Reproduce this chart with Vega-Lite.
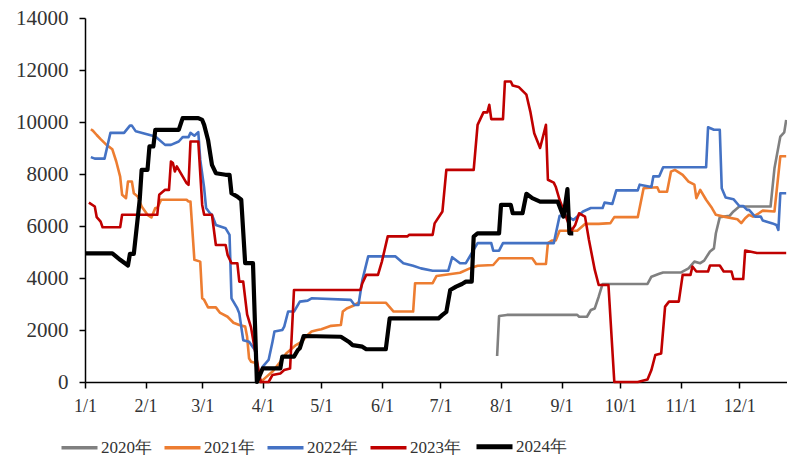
{
  "$schema": "https://vega.github.io/schema/vega-lite/v6.json",
  "width": 702,
  "height": 364,
  "autosize": "none",
  "padding": {"left": 85, "top": 18, "right": 0, "bottom": 79},
  "background": "#ffffff",
  "config": {"view": {"stroke": null}, "font": "Liberation Serif"},
  "data": {"values": [
    {"s":"2020年","d":"2024-07-30","v":1000},{"s":"2020年","d":"2024-07-31","v":2540},{"s":"2020年","d":"2024-08-04","v":2580},{"s":"2020年","d":"2024-09-09","v":2580},{"s":"2020年","d":"2024-09-10","v":2510},{"s":"2020年","d":"2024-09-14","v":2510},{"s":"2020年","d":"2024-09-16","v":2770},{"s":"2020年","d":"2024-09-18","v":2830},{"s":"2020年","d":"2024-09-20","v":3280},{"s":"2020年","d":"2024-09-22","v":3770},{"s":"2020年","d":"2024-10-15","v":3770},{"s":"2020年","d":"2024-10-17","v":4050},{"s":"2020年","d":"2024-10-21","v":4160},{"s":"2020年","d":"2024-10-23","v":4210},{"s":"2020年","d":"2024-11-01","v":4210},{"s":"2020年","d":"2024-11-05","v":4370},{"s":"2020年","d":"2024-11-08","v":4630},{"s":"2020年","d":"2024-11-11","v":4570},{"s":"2020年","d":"2024-11-13","v":4670},{"s":"2020年","d":"2024-11-16","v":5020},{"s":"2020年","d":"2024-11-18","v":5140},{"s":"2020年","d":"2024-11-19","v":5720},{"s":"2020年","d":"2024-11-21","v":6340},{"s":"2020年","d":"2024-11-26","v":6390},{"s":"2020年","d":"2024-11-28","v":6560},{"s":"2020年","d":"2024-12-01","v":6750},{"s":"2020年","d":"2024-12-17","v":6750},{"s":"2020年","d":"2024-12-19","v":8220},{"s":"2020年","d":"2024-12-22","v":9440},{"s":"2020年","d":"2024-12-24","v":9600},{"s":"2020年","d":"2024-12-25","v":10080},

    {"s":"2021年","d":"2024-01-04","v":9720},{"s":"2021年","d":"2024-01-05","v":9670},{"s":"2021年","d":"2024-01-07","v":9500},{"s":"2021年","d":"2024-01-09","v":9340},{"s":"2021年","d":"2024-01-12","v":9120},{"s":"2021年","d":"2024-01-15","v":8950},{"s":"2021年","d":"2024-01-17","v":8480},{"s":"2021年","d":"2024-01-19","v":7900},{"s":"2021年","d":"2024-01-20","v":7200},{"s":"2021年","d":"2024-01-22","v":7070},{"s":"2021年","d":"2024-01-23","v":7710},{"s":"2021年","d":"2024-01-25","v":7710},{"s":"2021年","d":"2024-01-26","v":7260},{"s":"2021年","d":"2024-01-28","v":7130},{"s":"2021年","d":"2024-01-30","v":6750},{"s":"2021年","d":"2024-02-02","v":6430},{"s":"2021年","d":"2024-02-04","v":6330},{"s":"2021年","d":"2024-02-06","v":6690},{"s":"2021年","d":"2024-02-07","v":6690},{"s":"2021年","d":"2024-02-09","v":7010},{"s":"2021年","d":"2024-02-22","v":7010},{"s":"2021年","d":"2024-02-23","v":6940},{"s":"2021年","d":"2024-02-24","v":6940},{"s":"2021年","d":"2024-02-26","v":4700},{"s":"2021年","d":"2024-02-29","v":4630},{"s":"2021年","d":"2024-03-01","v":3220},{"s":"2021年","d":"2024-03-02","v":3160},{"s":"2021年","d":"2024-03-04","v":2870},{"s":"2021年","d":"2024-03-08","v":2870},{"s":"2021年","d":"2024-03-10","v":2670},{"s":"2021年","d":"2024-03-14","v":2510},{"s":"2021年","d":"2024-03-17","v":2280},{"s":"2021年","d":"2024-03-20","v":2190},{"s":"2021年","d":"2024-03-23","v":2130},{"s":"2021年","d":"2024-03-24","v":1740},{"s":"2021年","d":"2024-03-25","v":910},{"s":"2021年","d":"2024-03-26","v":780},{"s":"2021年","d":"2024-03-28","v":740},{"s":"2021年","d":"2024-03-31","v":0},{"s":"2021年","d":"2024-04-02","v":140},{"s":"2021年","d":"2024-04-06","v":400},{"s":"2021年","d":"2024-04-10","v":780},{"s":"2021年","d":"2024-04-13","v":1100},{"s":"2021年","d":"2024-04-18","v":1420},{"s":"2021年","d":"2024-04-21","v":1550},{"s":"2021年","d":"2024-04-24","v":1810},{"s":"2021年","d":"2024-04-26","v":1940},{"s":"2021年","d":"2024-04-29","v":2000},{"s":"2021年","d":"2024-05-01","v":2030},{"s":"2021年","d":"2024-05-06","v":2160},{"s":"2021年","d":"2024-05-11","v":2190},{"s":"2021年","d":"2024-05-12","v":2710},{"s":"2021年","d":"2024-05-14","v":2830},{"s":"2021年","d":"2024-05-17","v":2920},{"s":"2021年","d":"2024-05-20","v":3050},{"s":"2021年","d":"2024-06-03","v":3050},{"s":"2021年","d":"2024-06-07","v":2710},{"s":"2021年","d":"2024-06-17","v":2710},{"s":"2021年","d":"2024-06-18","v":3800},{"s":"2021年","d":"2024-06-27","v":3800},{"s":"2021年","d":"2024-06-29","v":4080},{"s":"2021年","d":"2024-07-11","v":4200},{"s":"2021年","d":"2024-07-16","v":4370},{"s":"2021年","d":"2024-07-20","v":4470},{"s":"2021年","d":"2024-07-28","v":4500},{"s":"2021年","d":"2024-07-31","v":4760},{"s":"2021年","d":"2024-08-17","v":4760},{"s":"2021年","d":"2024-08-19","v":4540},{"s":"2021年","d":"2024-08-24","v":4540},{"s":"2021年","d":"2024-08-25","v":5340},{"s":"2021年","d":"2024-08-27","v":5440},{"s":"2021年","d":"2024-08-29","v":5440},{"s":"2021年","d":"2024-08-31","v":5820},{"s":"2021年","d":"2024-09-09","v":5820},{"s":"2021年","d":"2024-09-13","v":6080},{"s":"2021年","d":"2024-09-20","v":6080},{"s":"2021年","d":"2024-09-26","v":6110},{"s":"2021年","d":"2024-09-28","v":6340},{"s":"2021年","d":"2024-10-10","v":6340},{"s":"2021年","d":"2024-10-13","v":7450},{"s":"2021年","d":"2024-10-20","v":7490},{"s":"2021年","d":"2024-10-21","v":7320},{"s":"2021年","d":"2024-10-25","v":7320},{"s":"2021年","d":"2024-10-27","v":8090},{"s":"2021年","d":"2024-10-29","v":8160},{"s":"2021年","d":"2024-11-02","v":7970},{"s":"2021年","d":"2024-11-05","v":7710},{"s":"2021年","d":"2024-11-08","v":7590},{"s":"2021年","d":"2024-11-09","v":7070},{"s":"2021年","d":"2024-11-11","v":7390},{"s":"2021年","d":"2024-11-14","v":7010},{"s":"2021年","d":"2024-11-17","v":6690},{"s":"2021年","d":"2024-11-19","v":6430},{"s":"2021年","d":"2024-11-23","v":6360},{"s":"2021年","d":"2024-11-30","v":6260},{"s":"2021年","d":"2024-12-02","v":6110},{"s":"2021年","d":"2024-12-04","v":6300},{"s":"2021年","d":"2024-12-06","v":6430},{"s":"2021年","d":"2024-12-08","v":6360},{"s":"2021年","d":"2024-12-11","v":6490},{"s":"2021年","d":"2024-12-13","v":6590},{"s":"2021年","d":"2024-12-19","v":6560},{"s":"2021年","d":"2024-12-22","v":8680},{"s":"2021年","d":"2024-12-25","v":8680},

    {"s":"2022年","d":"2024-01-04","v":8650},{"s":"2022年","d":"2024-01-06","v":8590},{"s":"2022年","d":"2024-01-11","v":8590},{"s":"2022年","d":"2024-01-14","v":9580},{"s":"2022年","d":"2024-01-21","v":9580},{"s":"2022年","d":"2024-01-24","v":9860},{"s":"2022年","d":"2024-01-25","v":9860},{"s":"2022年","d":"2024-01-27","v":9640},{"s":"2022年","d":"2024-02-06","v":9440},{"s":"2022年","d":"2024-02-11","v":9120},{"s":"2022年","d":"2024-02-14","v":9120},{"s":"2022年","d":"2024-02-18","v":9250},{"s":"2022年","d":"2024-02-20","v":9420},{"s":"2022年","d":"2024-02-23","v":9420},{"s":"2022年","d":"2024-02-24","v":9580},{"s":"2022年","d":"2024-02-26","v":9470},{"s":"2022年","d":"2024-02-28","v":9610},{"s":"2022年","d":"2024-02-29","v":8550},{"s":"2022年","d":"2024-03-02","v":7460},{"s":"2022年","d":"2024-03-03","v":6690},{"s":"2022年","d":"2024-03-05","v":6490},{"s":"2022年","d":"2024-03-06","v":6430},{"s":"2022年","d":"2024-03-08","v":6040},{"s":"2022年","d":"2024-03-13","v":5910},{"s":"2022年","d":"2024-03-15","v":5660},{"s":"2022年","d":"2024-03-16","v":3220},{"s":"2022年","d":"2024-03-19","v":2830},{"s":"2022年","d":"2024-03-20","v":2640},{"s":"2022年","d":"2024-03-22","v":1610},{"s":"2022年","d":"2024-03-25","v":1550},{"s":"2022年","d":"2024-03-28","v":1230},{"s":"2022年","d":"2024-03-30","v":200},{"s":"2022年","d":"2024-04-01","v":590},{"s":"2022年","d":"2024-04-04","v":850},{"s":"2022年","d":"2024-04-06","v":1550},{"s":"2022年","d":"2024-04-07","v":1940},{"s":"2022年","d":"2024-04-11","v":2000},{"s":"2022年","d":"2024-04-12","v":2130},{"s":"2022年","d":"2024-04-14","v":2710},{"s":"2022年","d":"2024-04-17","v":2710},{"s":"2022年","d":"2024-04-20","v":3090},{"s":"2022年","d":"2024-04-24","v":3130},{"s":"2022年","d":"2024-04-26","v":3220},{"s":"2022年","d":"2024-05-16","v":3160},{"s":"2022年","d":"2024-05-18","v":2960},{"s":"2022年","d":"2024-05-20","v":2960},{"s":"2022年","d":"2024-05-22","v":3920},{"s":"2022年","d":"2024-05-25","v":4830},{"s":"2022年","d":"2024-06-08","v":4830},{"s":"2022年","d":"2024-06-12","v":4570},{"s":"2022年","d":"2024-06-17","v":4470},{"s":"2022年","d":"2024-06-21","v":4370},{"s":"2022年","d":"2024-06-27","v":4280},{"s":"2022年","d":"2024-07-05","v":4280},{"s":"2022年","d":"2024-07-07","v":4800},{"s":"2022年","d":"2024-07-11","v":4570},{"s":"2022年","d":"2024-07-14","v":4570},{"s":"2022年","d":"2024-07-20","v":5340},{"s":"2022年","d":"2024-07-27","v":5340},{"s":"2022年","d":"2024-07-28","v":5050},{"s":"2022年","d":"2024-07-31","v":5050},{"s":"2022年","d":"2024-08-02","v":5340},{"s":"2022年","d":"2024-08-28","v":5340},{"s":"2022年","d":"2024-08-31","v":6390},{"s":"2022年","d":"2024-09-04","v":6390},{"s":"2022年","d":"2024-09-07","v":6230},{"s":"2022年","d":"2024-09-12","v":6560},{"s":"2022年","d":"2024-09-16","v":6690},{"s":"2022年","d":"2024-09-22","v":6690},{"s":"2022年","d":"2024-09-23","v":6900},{"s":"2022年","d":"2024-09-27","v":6850},{"s":"2022年","d":"2024-09-29","v":7370},{"s":"2022年","d":"2024-10-10","v":7370},{"s":"2022年","d":"2024-10-11","v":7590},{"s":"2022年","d":"2024-10-17","v":7500},{"s":"2022年","d":"2024-10-18","v":7910},{"s":"2022年","d":"2024-10-21","v":7910},{"s":"2022年","d":"2024-10-23","v":8260},{"s":"2022年","d":"2024-11-14","v":8260},{"s":"2022年","d":"2024-11-15","v":9800},{"s":"2022年","d":"2024-11-18","v":9700},{"s":"2022年","d":"2024-11-21","v":9700},{"s":"2022年","d":"2024-11-22","v":7450},{"s":"2022年","d":"2024-11-24","v":7100},{"s":"2022年","d":"2024-11-28","v":7030},{"s":"2022年","d":"2024-12-01","v":6770},{"s":"2022年","d":"2024-12-03","v":6770},{"s":"2022年","d":"2024-12-05","v":6620},{"s":"2022年","d":"2024-12-06","v":6620},{"s":"2022年","d":"2024-12-09","v":6360},{"s":"2022年","d":"2024-12-12","v":6360},{"s":"2022年","d":"2024-12-13","v":6210},{"s":"2022年","d":"2024-12-18","v":6100},{"s":"2022年","d":"2024-12-20","v":6040},{"s":"2022年","d":"2024-12-21","v":5850},{"s":"2022年","d":"2024-12-22","v":7260},{"s":"2022年","d":"2024-12-25","v":7260},

    {"s":"2023年","d":"2024-01-03","v":6900},{"s":"2023年","d":"2024-01-06","v":6750},{"s":"2023年","d":"2024-01-07","v":6340},{"s":"2023年","d":"2024-01-09","v":6170},{"s":"2023年","d":"2024-01-10","v":5950},{"s":"2023年","d":"2024-01-19","v":5950},{"s":"2023年","d":"2024-01-20","v":6430},{"s":"2023年","d":"2024-02-07","v":6430},{"s":"2023年","d":"2024-02-08","v":7200},{"s":"2023年","d":"2024-02-11","v":7390},{"s":"2023年","d":"2024-02-13","v":7390},{"s":"2023年","d":"2024-02-14","v":8480},{"s":"2023年","d":"2024-02-15","v":8420},{"s":"2023年","d":"2024-02-16","v":8100},{"s":"2023年","d":"2024-02-17","v":8290},{"s":"2023年","d":"2024-02-22","v":7650},{"s":"2023年","d":"2024-02-23","v":7580},{"s":"2023年","d":"2024-02-24","v":9250},{"s":"2023年","d":"2024-02-28","v":9250},{"s":"2023年","d":"2024-03-01","v":6810},{"s":"2023年","d":"2024-03-02","v":6430},{"s":"2023年","d":"2024-03-06","v":6430},{"s":"2023年","d":"2024-03-08","v":5270},{"s":"2023年","d":"2024-03-13","v":5270},{"s":"2023年","d":"2024-03-14","v":4890},{"s":"2023年","d":"2024-03-16","v":4570},{"s":"2023年","d":"2024-03-19","v":4570},{"s":"2023年","d":"2024-03-20","v":3860},{"s":"2023年","d":"2024-03-22","v":3860},{"s":"2023年","d":"2024-03-24","v":2600},{"s":"2023年","d":"2024-03-26","v":2100},{"s":"2023年","d":"2024-03-28","v":1230},{"s":"2023年","d":"2024-03-31","v":0},{"s":"2023年","d":"2024-04-04","v":0},{"s":"2023年","d":"2024-04-06","v":270},{"s":"2023年","d":"2024-04-10","v":330},{"s":"2023年","d":"2024-04-12","v":460},{"s":"2023年","d":"2024-04-15","v":520},{"s":"2023年","d":"2024-04-17","v":3540},{"s":"2023年","d":"2024-05-21","v":3540},{"s":"2023年","d":"2024-05-22","v":3800},{"s":"2023年","d":"2024-05-24","v":4120},{"s":"2023年","d":"2024-05-30","v":4120},{"s":"2023年","d":"2024-06-01","v":4630},{"s":"2023年","d":"2024-06-04","v":5600},{"s":"2023年","d":"2024-06-14","v":5600},{"s":"2023年","d":"2024-06-15","v":5660},{"s":"2023年","d":"2024-06-27","v":5660},{"s":"2023年","d":"2024-06-28","v":6100},{"s":"2023年","d":"2024-07-02","v":6560},{"s":"2023年","d":"2024-07-04","v":8160},{"s":"2023年","d":"2024-07-18","v":8160},{"s":"2023年","d":"2024-07-20","v":9890},{"s":"2023年","d":"2024-07-23","v":10370},{"s":"2023年","d":"2024-07-25","v":10370},{"s":"2023年","d":"2024-07-26","v":10660},{"s":"2023年","d":"2024-07-27","v":10110},{"s":"2023年","d":"2024-08-02","v":10110},{"s":"2023年","d":"2024-08-03","v":11560},{"s":"2023年","d":"2024-08-06","v":11560},{"s":"2023年","d":"2024-08-07","v":11400},{"s":"2023年","d":"2024-08-10","v":11350},{"s":"2023年","d":"2024-08-14","v":11050},{"s":"2023年","d":"2024-08-16","v":10400},{"s":"2023年","d":"2024-08-18","v":9570},{"s":"2023年","d":"2024-08-21","v":9000},{"s":"2023年","d":"2024-08-24","v":9890},{"s":"2023年","d":"2024-08-25","v":7780},{"s":"2023年","d":"2024-08-28","v":7670},{"s":"2023年","d":"2024-08-29","v":7510},{"s":"2023年","d":"2024-08-31","v":7000},{"s":"2023年","d":"2024-09-02","v":6620},{"s":"2023年","d":"2024-09-03","v":6400},{"s":"2023年","d":"2024-09-06","v":5820},{"s":"2023年","d":"2024-09-08","v":6040},{"s":"2023年","d":"2024-09-10","v":6490},{"s":"2023年","d":"2024-09-13","v":6360},{"s":"2023年","d":"2024-09-15","v":5470},{"s":"2023年","d":"2024-09-18","v":4310},{"s":"2023年","d":"2024-09-20","v":3730},{"s":"2023年","d":"2024-09-25","v":3730},{"s":"2023年","d":"2024-09-28","v":0},{"s":"2023年","d":"2024-10-10","v":0},{"s":"2023年","d":"2024-10-15","v":100},{"s":"2023年","d":"2024-10-17","v":460},{"s":"2023年","d":"2024-10-19","v":1040},{"s":"2023年","d":"2024-10-22","v":1100},{"s":"2023年","d":"2024-10-24","v":2900},{"s":"2023年","d":"2024-10-26","v":3090},{"s":"2023年","d":"2024-10-31","v":3090},{"s":"2023年","d":"2024-11-02","v":4120},{"s":"2023年","d":"2024-11-06","v":4120},{"s":"2023年","d":"2024-11-07","v":4440},{"s":"2023年","d":"2024-11-09","v":4250},{"s":"2023年","d":"2024-11-15","v":4250},{"s":"2023年","d":"2024-11-16","v":4480},{"s":"2023年","d":"2024-11-21","v":4480},{"s":"2023年","d":"2024-11-23","v":4250},{"s":"2023年","d":"2024-11-27","v":4250},{"s":"2023年","d":"2024-11-28","v":3960},{"s":"2023年","d":"2024-12-03","v":3960},{"s":"2023年","d":"2024-12-04","v":5060},{"s":"2023年","d":"2024-12-10","v":4960},{"s":"2023年","d":"2024-12-25","v":4960},

    {"s":"2024年","d":"2024-01-01","v":4950},{"s":"2024年","d":"2024-01-15","v":4950},{"s":"2024年","d":"2024-01-19","v":4700},{"s":"2024年","d":"2024-01-23","v":4480},{"s":"2024年","d":"2024-01-24","v":4930},{"s":"2024年","d":"2024-01-26","v":4930},{"s":"2024年","d":"2024-01-29","v":7000},{"s":"2024年","d":"2024-01-30","v":8160},{"s":"2024年","d":"2024-02-02","v":8160},{"s":"2024年","d":"2024-02-03","v":9060},{"s":"2024年","d":"2024-02-05","v":9060},{"s":"2024年","d":"2024-02-06","v":9700},{"s":"2024年","d":"2024-02-18","v":9700},{"s":"2024年","d":"2024-02-20","v":10150},{"s":"2024年","d":"2024-02-28","v":10150},{"s":"2024年","d":"2024-03-01","v":10080},{"s":"2024年","d":"2024-03-02","v":9890},{"s":"2024年","d":"2024-03-04","v":9310},{"s":"2024年","d":"2024-03-06","v":8350},{"s":"2024年","d":"2024-03-08","v":8030},{"s":"2024年","d":"2024-03-13","v":7970},{"s":"2024年","d":"2024-03-15","v":7970},{"s":"2024年","d":"2024-03-16","v":7260},{"s":"2024年","d":"2024-03-19","v":7130},{"s":"2024年","d":"2024-03-21","v":7010},{"s":"2024年","d":"2024-03-23","v":4570},{"s":"2024年","d":"2024-03-27","v":4570},{"s":"2024年","d":"2024-03-29","v":0},{"s":"2024年","d":"2024-04-01","v":525},{"s":"2024年","d":"2024-04-10","v":525},{"s":"2024年","d":"2024-04-11","v":975},{"s":"2024年","d":"2024-04-17","v":975},{"s":"2024年","d":"2024-04-19","v":1230},{"s":"2024年","d":"2024-04-20","v":1300},{"s":"2024年","d":"2024-04-22","v":1770},{"s":"2024年","d":"2024-05-11","v":1740},{"s":"2024年","d":"2024-05-15","v":1550},{"s":"2024年","d":"2024-05-17","v":1420},{"s":"2024年","d":"2024-05-22","v":1360},{"s":"2024年","d":"2024-05-24","v":1260},{"s":"2024年","d":"2024-06-03","v":1260},{"s":"2024年","d":"2024-06-05","v":2450},{"s":"2024年","d":"2024-06-30","v":2450},{"s":"2024年","d":"2024-07-02","v":2580},{"s":"2024年","d":"2024-07-04","v":2700},{"s":"2024年","d":"2024-07-06","v":3540},{"s":"2024年","d":"2024-07-09","v":3670},{"s":"2024年","d":"2024-07-12","v":3770},{"s":"2024年","d":"2024-07-14","v":3860},{"s":"2024年","d":"2024-07-17","v":3860},{"s":"2024年","d":"2024-07-18","v":5590},{"s":"2024年","d":"2024-07-20","v":5720},{"s":"2024年","d":"2024-07-31","v":5720},{"s":"2024年","d":"2024-08-01","v":6810},{"s":"2024年","d":"2024-08-06","v":6810},{"s":"2024年","d":"2024-08-07","v":6490},{"s":"2024年","d":"2024-08-12","v":6490},{"s":"2024年","d":"2024-08-14","v":7240},{"s":"2024年","d":"2024-08-17","v":7070},{"s":"2024年","d":"2024-08-21","v":6940},{"s":"2024年","d":"2024-08-30","v":6940},{"s":"2024年","d":"2024-09-02","v":6360},{"s":"2024年","d":"2024-09-04","v":7420},{"s":"2024年","d":"2024-09-05","v":5720},{"s":"2024年","d":"2024-09-07","v":5720}
  ]},
  "mark": {"type": "line", "clip": false, "strokeJoin": "round"},
  "encoding": {
    "x": {
      "field": "d", "type": "temporal",
      "scale": {"domain": ["2024-01-01", "2024-12-25T10:00:00"]},
      "axis": {
        "title": null, "grid": false, "format": "%-m/%-d",
        "tickCount": {"interval": "month", "step": 1},
        "labelFlush": false, "labelOverlap": false,
        "domainColor": "#000000", "domainWidth": 1.5,
        "tickColor": "#000000", "tickSize": 6, "tickWidth": 1.5,
        "labelFont": "Liberation Serif", "labelFontSize": 18, "labelColor": "#333333",
        "labelPadding": 9
      }
    },
    "y": {
      "field": "v", "type": "quantitative",
      "scale": {"domain": [0, 14000], "nice": false},
      "axis": {
        "title": null, "grid": false, "values": [0, 2000, 4000, 6000, 8000, 10000, 12000, 14000],
        "format": "d",
        "domainColor": "#000000", "domainWidth": 1.5,
        "tickColor": "#000000", "tickSize": 6, "tickWidth": 1.5,
        "labelFont": "Liberation Serif", "labelFontSize": 21, "labelColor": "#333333",
        "labelPadding": 11
      }
    },
    "color": {
      "field": "s", "type": "nominal",
      "scale": {"domain": ["2020年", "2021年", "2022年", "2023年", "2024年"], "range": ["#808080", "#ED7D31", "#4472C4", "#C00000", "#000000"]},
      "legend": {
        "title": null, "orient": "none", "legendX": -14, "legendY": 420,
        "direction": "horizontal", "symbolType": "stroke", "symbolSize": 1296,
        "symbolStrokeWidth": 3.5, "labelFont": "Liberation Serif", "labelFontSize": 17,
        "labelColor": "#333333", "labelOffset": 13, "columnPadding": 5,
        "encode": {"symbols": {"update": {"strokeWidth": {"signal": "datum.value === '2024年' ? 5 : 3.5"}}}}
      }
    },
    "strokeWidth": {"condition": {"test": "datum.s === '2024年'", "value": 4.2}, "value": 2.6}
  }
}
